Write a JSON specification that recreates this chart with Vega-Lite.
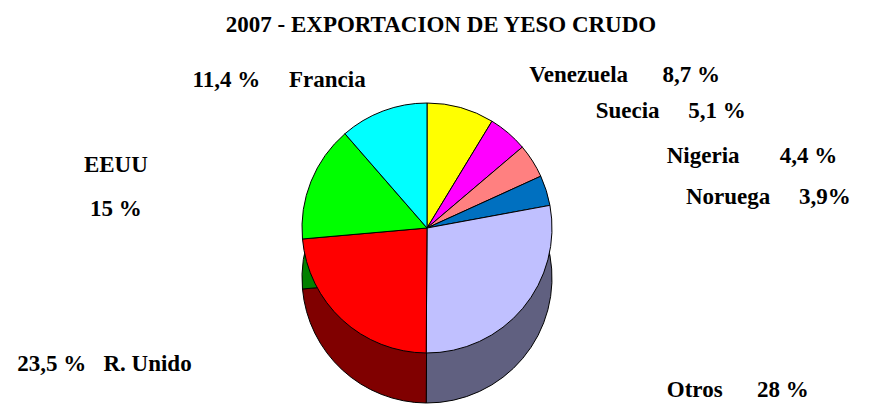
{
  "$schema": "https://vega.github.io/schema/vega-lite/v6.json",
  "width": 854,
  "height": 350,
  "autosize": "none",
  "padding": {"top": 53, "left": 0, "right": 15, "bottom": 4},
  "background": "white",
  "title": {
    "text": "2007 - EXPORTACION DE YESO CRUDO",
    "font": "Liberation Serif",
    "fontSize": 23,
    "fontWeight": "bold",
    "color": "black",
    "offset": -36,
    "dx": 14
  },
  "config": {"view": {"stroke": null}},
  "data": {
    "values": [
      {"pais": "Venezuela", "pct": 8.7, "orden": 1, "etiqueta": "Venezuela\u00a0\u00a0\u00a0\u00a0\u00a0\u00a08,7 %"},
      {"pais": "Suecia", "pct": 5.1, "orden": 2, "etiqueta": "Suecia\u00a0\u00a0\u00a0\u00a0\u00a05,1 %"},
      {"pais": "Nigeria", "pct": 4.4, "orden": 3, "etiqueta": "Nigeria\u00a0\u00a0\u00a0\u00a0\u00a0\u00a0\u00a04,4 %"},
      {"pais": "Noruega", "pct": 3.9, "orden": 4, "etiqueta": "Noruega\u00a0\u00a0\u00a0\u00a0\u00a03,9%"},
      {"pais": "Otros", "pct": 28, "orden": 5, "etiqueta": "Otros\u00a0\u00a0\u00a0\u00a0\u00a0\u00a028 %"},
      {"pais": "R. Unido", "pct": 23.5, "orden": 6, "etiqueta": "23,5 %\u00a0\u00a0\u00a0R. Unido"},
      {"pais": "EEUU", "pct": 15, "orden": 7, "etiqueta": "EEUU\n15 %"},
      {"pais": "Francia", "pct": 11.4, "orden": 8, "etiqueta": "11,4 %\u00a0\u00a0\u00a0\u00a0\u00a0Francia"}
    ]
  },
  "encoding": {
    "theta": {"field": "pct", "type": "quantitative", "stack": true},
    "order": {"field": "orden", "type": "quantitative"}
  },
  "layer": [
    {
      "mark": {"type": "arc", "radius": 125, "yOffset": 50, "stroke": "black", "strokeWidth": 1},
      "encoding": {
        "color": {
          "field": "pais",
          "type": "nominal",
          "scale": {
            "domain": ["Venezuela", "Suecia", "Nigeria", "Noruega", "Otros", "R. Unido", "EEUU", "Francia"],
            "range": ["#808000", "#800080", "#804040", "#003366", "#606080", "#800000", "#008000", "#008080"]
          },
          "legend": null
        }
      }
    },
    {
      "mark": {"type": "arc", "radius": 125, "stroke": "black", "strokeWidth": 1},
      "encoding": {
        "color": {
          "field": "pais",
          "type": "nominal",
          "scale": {
            "domain": ["Venezuela", "Suecia", "Nigeria", "Noruega", "Otros", "R. Unido", "EEUU", "Francia"],
            "range": ["#FFFF00", "#FF00FF", "#FF8080", "#0070C0", "#C0C0FF", "#FF0000", "#00FF00", "#00FFFF"]
          },
          "legend": null
        }
      }
    },
    {
      "mark": {"type": "text", "radius": 175, "dx": 55, "dy": 16, "align": "left", "baseline": "middle", "font": "Liberation Serif", "fontSize": 23, "fontWeight": "bold", "color": "black"},
      "encoding": {
        "text": {"condition": {"test": "datum.orden <= 2", "field": "etiqueta"}, "value": ""}
      }
    },
    {
      "mark": {"type": "text", "radius": 175, "dx": 92, "dy": 22, "align": "left", "baseline": "middle", "font": "Liberation Serif", "fontSize": 23, "fontWeight": "bold", "color": "black"},
      "encoding": {
        "text": {"condition": {"test": "datum.orden == 3 || datum.orden == 4", "field": "etiqueta"}, "value": ""}
      }
    },
    {
      "mark": {"type": "text", "radius": 215, "dx": 75, "dy": 24, "align": "left", "baseline": "middle", "font": "Liberation Serif", "fontSize": 23, "fontWeight": "bold", "color": "black"},
      "encoding": {
        "text": {"condition": {"test": "datum.orden == 5", "field": "etiqueta"}, "value": ""}
      }
    },
    {
      "mark": {"type": "text", "radius": 185, "dx": -110, "align": "right", "baseline": "middle", "font": "Liberation Serif", "fontSize": 23, "fontWeight": "bold", "color": "black"},
      "encoding": {
        "text": {"condition": {"test": "datum.orden == 6", "field": "etiqueta"}, "value": ""}
      }
    },
    {
      "mark": {"type": "text", "radius": 175, "dy": 16, "align": "right", "baseline": "middle", "font": "Liberation Serif", "fontSize": 23, "fontWeight": "bold", "color": "black"},
      "encoding": {
        "text": {"condition": {"test": "datum.orden == 8", "field": "etiqueta"}, "value": ""}
      }
    },
    {
      "mark": {"type": "text", "radius": 260, "dx": -70, "dy": 34, "align": "center", "baseline": "middle", "font": "Liberation Serif", "fontSize": 23, "fontWeight": "bold", "color": "black", "lineBreak": "\n", "lineHeight": 44},
      "encoding": {
        "text": {"condition": {"test": "datum.orden == 7", "field": "etiqueta"}, "value": ""}
      }
    }
  ],
  "resolve": {"scale": {"color": "independent"}}
}
